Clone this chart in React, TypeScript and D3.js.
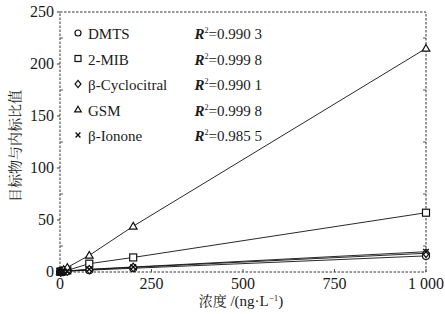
import React from "react";
import * as d3 from "d3";

const concentrations = [1, 2, 5, 10, 20, 80, 200, 1000];
const seriesNames = ["DMTS", "2-MIB", "β-Cyclocitral", "GSM", "β-Ionone"];
const r2Labels = ["0.990 3", "0.999 8", "0.990 1", "0.999 8", "0.985 5"];
const markerShapes = ["circle", "square", "diamond", "triangle", "cross"];
const dmts = [0.1, 0.15, 0.3, 0.4, 0.8, 1.8, 3.6, 15.5];
const mib = [0.2, 0.3, 0.6, 0.9, 1.6, 8, 14, 57];
const cyclocitral = [0.1, 0.2, 0.35, 0.5, 0.9, 2.3, 4.5, 18];
const gsm = [0.3, 0.6, 1.2, 2.3, 4.4, 16, 44, 215];
const ionone = [0.1, 0.2, 0.4, 0.6, 1.0, 2.6, 4.8, 19.5];
const seriesValues = [dmts, mib, cyclocitral, gsm, ionone];
const xTicks = [0, 250, 500, 750, 1000];
const xTickLabels = ["0", "250", "500", "750", "1 000"];
const yTicks = [0, 50, 100, 150, 200, 250];
const yMinorTicks = [25, 75, 125, 175, 225];

const W = 445, H = 314;
const M = { left: 60, right: 19, top: 12, bottom: 42 };
const SERIF = { fontFamily: "Liberation Serif" };
const CJK = { fontFamily: "Noto Serif CJK SC" };

function Marker({ shape, x, y, s }: { shape: string; x: number; y: number; s: number }) {
  const h = s / 2;
  const common = { fill: "white", stroke: "#111", strokeWidth: 1.2 };
  if (shape === "circle") return <circle cx={x} cy={y} r={h} {...common} />;
  if (shape === "square") return <rect x={x - h} y={y - h} width={s} height={s} {...common} />;
  if (shape === "diamond")
    return <path d={`M${x},${y - h * 1.2}L${x + h},${y}L${x},${y + h * 1.2}L${x - h},${y}Z`} {...common} />;
  if (shape === "triangle")
    return <path d={`M${x},${y - h * 1.1}L${x + h * 1.1},${y + h * 0.8}L${x - h * 1.1},${y + h * 0.8}Z`} {...common} />;
  return (
    <path d={`M${x - h * 0.8},${y - h * 0.8}L${x + h * 0.8},${y + h * 0.8}M${x + h * 0.8},${y - h * 0.8}L${x - h * 0.8},${y + h * 0.8}`} stroke="#111" strokeWidth={1.4} fill="none" />
  );
}

export default function App() {
  const x = d3.scaleLinear().domain([0, 1000]).range([M.left, W - M.right]);
  const y = d3.scaleLinear().domain([0, 250]).range([H - M.bottom, M.top]);
  const line = d3.line<number>().x((_, i) => x(concentrations[i])).y((d) => y(d));
  const x0 = x(0), x1 = x(1000), y0 = y(0), y1 = y(250);

  return (
    <svg width={W} height={H} style={{ position: "absolute", left: 0, top: 0, background: "white" }}>
      <rect x={0} y={0} width={W} height={H} fill="white" />
      <rect x={x0} y={y1} width={x1 - x0} height={y0 - y1} fill="none" stroke="#333" strokeWidth={1} strokeDasharray="2.5,1.5" />
      {yTicks.map((t) => (
        <g key={"y" + t}>
          <line x1={x0 - 3} x2={x0} y1={y(t)} y2={y(t)} stroke="#333" />
          <text x={x0 - 6} y={y(t) + 5} textAnchor="end" style={SERIF} fontSize={16} fill="#1a1a1a">{t}</text>
        </g>
      ))}
      {yMinorTicks.map((t) => (
        <g key={"ym" + t}>
          <line x1={x0} x2={x0 + 3} y1={y(t)} y2={y(t)} stroke="#555" />
          <line x1={x1 - 3} x2={x1} y1={y(t)} y2={y(t)} stroke="#555" />
        </g>
      ))}
      {xTicks.map((t, i) => (
        <g key={"x" + t}>
          <line x1={x(t)} x2={x(t)} y1={y0} y2={y0 - 3} stroke="#555" />
          <text x={x(t)} y={y0 + 17} textAnchor="middle" style={SERIF} fontSize={16} fill="#1a1a1a">{xTickLabels[i]}</text>
        </g>
      ))}
      <text x={241} y={306} textAnchor="middle" style={SERIF} fontSize={15} fill="#1a1a1a">
        <tspan style={CJK} fontSize={14}>浓度</tspan>
        <tspan> /(ng·L</tspan>
        <tspan fontSize={9} dy={-5}>−1</tspan>
        <tspan dy={5}>)</tspan>
      </text>
      <text transform={`translate(20,146) rotate(-90)`} textAnchor="middle" style={CJK} fontSize={14} fill="#1a1a1a">
        目标物与内标比值
      </text>
      {seriesValues.map((vals, si) => (
        <path key={"l" + si} d={line(vals) || ""} fill="none" stroke="#111" strokeWidth={0.9} />
      ))}
      {seriesValues.map((vals, si) =>
        vals.map((v, i) => (
          <Marker key={`m${si}-${i}`} shape={markerShapes[si]} x={x(concentrations[i])} y={y(v)} s={7} />
        ))
      )}
      {seriesNames.map((n, i) => {
        const ly = 35 + i * 25.5;
        return (
          <g key={"lg" + i}>
            <Marker shape={markerShapes[i]} x={78} y={ly - 2} s={6} />
            <text x={88} y={ly + 4} style={SERIF} fontSize={15} fill="#1a1a1a">{n}</text>
            <text x={262} y={ly + 4} textAnchor="end" style={SERIF} fontSize={15} fill="#1a1a1a">
              <tspan fontStyle="italic" fontWeight="bold">R</tspan>
              <tspan fontSize={8} dy={-6}>2</tspan>
              <tspan dy={6}>={r2Labels[i]}</tspan>
            </text>
          </g>
        );
      })}
    </svg>
  );
}
